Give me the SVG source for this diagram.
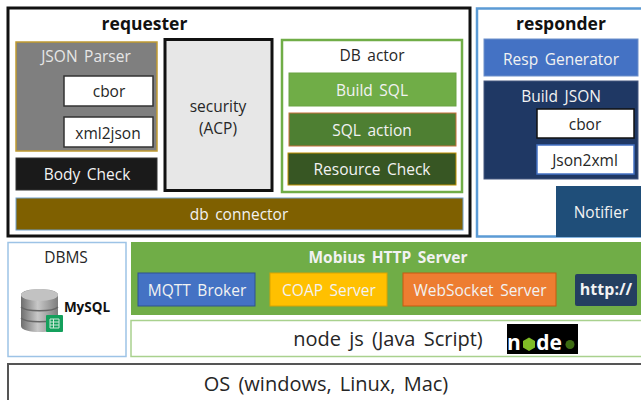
<svg xmlns="http://www.w3.org/2000/svg" width="641" height="400" viewBox="0 0 641 400">
<defs>
<linearGradient id="cyl" x1="0" x2="1" y1="0" y2="0"><stop offset="0" stop-color="#6e6e6e"/><stop offset=".45" stop-color="#c8c8c8"/><stop offset="1" stop-color="#7d7d7d"/></linearGradient>
</defs>
<style>
text{font-family:"Open Sans","Noto Sans","Liberation Sans",sans-serif;text-anchor:middle;font-size:15.500px;word-spacing:2.500px;fill:#262626}
.w{fill:#f2f2f2}
.b{font-weight:700;fill:#111;font-size:17.500px}
.wb{font-weight:700;fill:#f2f2f2}
.big{font-size:20px;word-spacing:3px}
.logo{font-size:21px;font-weight:700;fill:#fff;word-spacing:0}
</style>
<rect width="641" height="400" fill="#fff"/>
<g id="requester"><rect x="8" y="8" width="462" height="228" fill="#fff" stroke="#111" stroke-width="3"/><text class="b" x="144.500" y="30">requester</text></g>
<g id="json-parser"><rect x="16" y="42" width="141" height="109" fill="#7f7f7f" stroke="#c09a30" stroke-width="1.500"/><text x="86" y="62" style="fill:#e6e6e6">JSON Parser</text></g>
<g id="cbor-req"><rect x="64" y="76" width="89" height="30" fill="#fff" stroke="#333" stroke-width="1.500"/><text x="109" y="97">cbor</text></g>
<g id="xml2json"><rect x="64" y="117" width="89" height="30" fill="#fff" stroke="#333" stroke-width="1.500"/><text x="108" y="139">xml2json</text></g>
<g id="body-check"><rect x="16" y="158" width="141" height="32" fill="#1a1a1a" stroke="#333"/><text class="w" x="87" y="180">Body Check</text></g>
<g id="security"><rect x="165" y="39.500" width="107" height="151" fill="#e7e7e7" stroke="#111" stroke-width="3"/><text x="218" y="112">security</text><text x="218" y="134">(ACP)</text></g>
<g id="db-actor"><rect x="282" y="40" width="180" height="152" fill="#fff" stroke="#70ad47" stroke-width="2.500"/><text x="372" y="61">DB actor</text></g>
<g id="build-sql"><rect x="289" y="73" width="167" height="33" fill="#70ad47" stroke="#6aa343"/><text class="w" x="372" y="96">Build SQL</text></g>
<g id="sql-action"><rect x="289" y="113" width="167" height="33" fill="#4e7f32" stroke="#c5703a"/><text class="w" x="372" y="136">SQL action</text></g>
<g id="resource-check"><rect x="288" y="153" width="168" height="32" fill="#375623" stroke="#bf9000"/><text class="w" x="372" y="175">Resource Check</text></g>
<g id="db-connector"><rect x="16" y="198" width="447" height="32" fill="#7f6000" stroke="#6f9ec9"/><text class="w" x="239" y="220">db connector</text></g>
<g id="responder"><rect x="477" y="8.500" width="170" height="228" fill="#fff" stroke="#5b9bd5" stroke-width="2.500"/><text class="b" x="561" y="30">responder</text></g>
<g id="resp-generator"><rect x="484" y="39" width="154" height="37" fill="#4472c4" stroke="#6d8fc9"/><text class="w" x="561" y="65">Resp Generator</text></g>
<g id="build-json"><rect x="484" y="81" width="154" height="98" fill="#1f3864" stroke="#44567f"/><text class="w" x="561" y="102">Build JSON</text></g>
<g id="cbor-resp"><rect x="537" y="109" width="97" height="29" fill="#fff" stroke="#111" stroke-width="1.500"/><text x="585" y="130">cbor</text></g>
<g id="json2xml"><rect x="537" y="145" width="97" height="29" fill="#fff" stroke="#4472c4" stroke-width="1.500"/><text x="585" y="166">Json2xml</text></g>
<g id="notifier"><rect x="556" y="186" width="90" height="51" fill="#1f4e79"/><text class="w" x="601" y="218">Notifier</text></g>
<g id="dbms"><rect x="8" y="242.500" width="118" height="114" fill="#fff" stroke="#9dc3e6" stroke-width="1.500"/><text x="66" y="263">DBMS</text>
<path d="M21 295c0-8 37-8 37 0v31c0 8-37 8-37 0z" fill="url(#cyl)"/><ellipse cx="39.500" cy="295" rx="18.500" ry="6" fill="#c2c2c2"/><path d="M21 307c5 5 32 5 37 0M21 318c5 5 32 5 37 0" fill="none" stroke="#666" stroke-width="1.500"/>
<rect x="46" y="315" width="17" height="17" fill="#14a05c" rx="1"/><path d="M50 319h9v9h-9zM50 322h9M50 325h9M53.500 319v9" fill="none" stroke="#cfe9da"/>
<text class="b" x="87" y="312" style="font-size:13.500px">MySQL</text></g>
<g id="mobius"><rect x="131" y="242" width="511" height="73" fill="#70ad47"/><text class="wb" x="388" y="263">Mobius HTTP Server</text></g>
<g id="mqtt"><rect x="138" y="273" width="117" height="33" fill="#4472c4" stroke="#2f528f"/><text class="w" x="197" y="296">MQTT Broker</text></g>
<g id="coap"><rect x="270" y="273" width="117" height="33" fill="#ffc000" stroke="#d9a400"/><text class="w" x="329" y="296">COAP Server</text></g>
<g id="websocket"><rect x="403" y="273" width="153" height="33" fill="#ed7d31" stroke="#c55a11"/><text class="w" x="480" y="296">WebSocket Server</text></g>
<g id="http"><rect x="575" y="274" width="62" height="32" rx="2" fill="#243f60"/><text class="wb" x="606" y="295" style="font-size:16px">http://</text></g>
<g id="nodejs"><rect x="131" y="320.500" width="511" height="36" fill="#fff" stroke="#a9d18e" stroke-width="1.500"/><text class="big" x="388" y="346">node js (Java Script)</text></g>
<g id="node-logo"><rect x="507" y="324" width="71" height="30" fill="#000"/><text class="logo" x="514" y="350">n</text><path d="M529 337.500l6 3.500v6.500l-6 3.500-6-3.500V341z" fill="#7fbc26"/><text class="logo" x="549" y="350">de</text><circle cx="570" cy="344.500" r="4.500" fill="#3d6b12"/></g>
<g id="os"><rect x="8" y="364" width="640" height="44" fill="#fff" stroke="#555" stroke-width="2"/><text class="big" x="326" y="391">OS (windows, Linux, Mac)</text></g>
<g id="connectors"/>
</svg>
